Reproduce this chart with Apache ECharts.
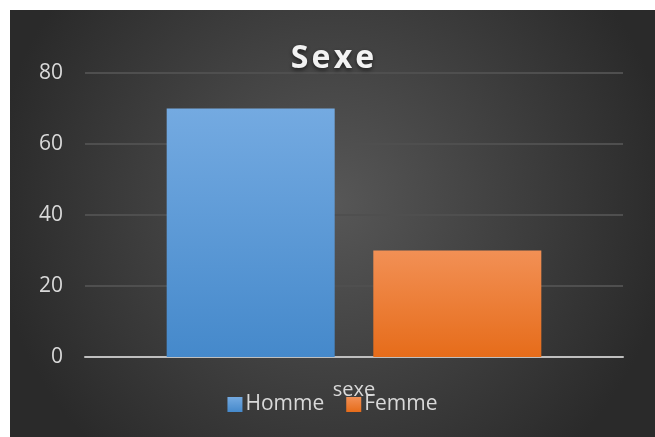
<!DOCTYPE html>
<html>
<head>
<meta charset="utf-8">
<script src="https://cdn.jsdelivr.net/npm/echarts@6/dist/echarts.min.js"></script>
<style>
  html, body { margin: 0; padding: 0; background: #fff; }
  #chart { position: absolute; left: 10px; top: 10px; width: 645px; height: 427px; }
</style>
</head>
<body>
<div id="chart"></div>
<script>
// données
const categories = ["sexe"];
const seriesNames = ["Homme", "Femme"];
const homme = [70];
const femme = [30];
const yTicks = [0, 20, 40, 60, 80];

const grad = (top, bottom) =>
  new echarts.graphic.LinearGradient(0, 0, 0, 1, [
    { offset: 0, color: top },
    { offset: 1, color: bottom },
  ]);

const chart = echarts.init(document.getElementById("chart"));
chart.setOption({
  backgroundColor: {
    type: "radial", x: 0.5, y: 0.45, r: 0.8,
    colorStops: [
      { offset: 0, color: "#575757" },
      { offset: 1, color: "#2a2a2a" },
    ],
  },
  textStyle: { fontFamily: "Open Sans" },
  title: {
    text: "S\u200ae\u200ax\u200ae",
    left: "center",
    top: 28,
    textStyle: {
      color: "#f2f2f2",
      fontSize: 32,
      fontWeight: "bold",
      fontFamily: "Open Sans",
      textShadowColor: "rgba(0,0,0,0.6)",
      textShadowBlur: 4,
      textShadowOffsetY: 2,
    },
  },
  legend: {
    bottom: 17,
    left: "center",
    itemWidth: 15,
    itemHeight: 15,
    itemGap: 22,
    icon: "rect",
    textStyle: { color: "#d9d9d9", fontSize: 21, padding: [0, 0, 0, -2] },
    data: seriesNames,
  },
  grid: { left: 75, right: 32, top: 63, bottom: 80 },
  xAxis: {
    type: "category",
    data: categories,
    axisLine: { lineStyle: { color: "#bfbfbf", width: 2 } },
    axisTick: { show: false },
    axisLabel: { color: "#d9d9d9", fontSize: 20, margin: 23 },
  },
  yAxis: {
    type: "value",
    min: yTicks[0],
    max: yTicks[yTicks.length - 1],
    interval: 20,
    axisLine: { show: false },
    axisTick: { show: false },
    axisLabel: { color: "#d9d9d9", fontSize: 21, margin: 22 },
    splitLine: { lineStyle: { color: "#4f4f4f", width: 2 } },
  },
  series: [
    {
      name: seriesNames[0],
      type: "bar",
      data: homme,
      barWidth: 168,
      barGap: "23%",
      itemStyle: {
        color: grad("#74aae1", "#4589cb"),
        shadowBlur: 10,
        shadowColor: "rgba(0,0,0,0.5)",
      },
    },
    {
      name: seriesNames[1],
      type: "bar",
      data: femme,
      barWidth: 168,
      barGap: "23%",
      itemStyle: {
        color: grad("#f29055", "#e66c1a"),
        shadowBlur: 10,
        shadowColor: "rgba(0,0,0,0.5)",
      },
    },
  ],
});
</script>
</body>
</html>
